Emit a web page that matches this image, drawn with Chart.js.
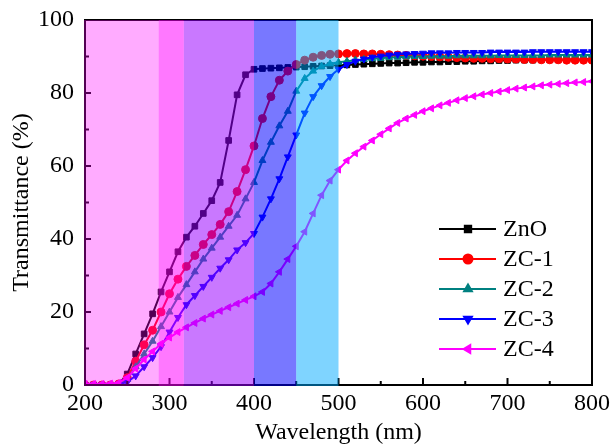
<!DOCTYPE html>
<html>
<head>
  <title>Transmittance</title>
  <script src="https://cdn.jsdelivr.net/npm/chart.js@4.4.2/dist/chart.umd.min.js"></script>
  <style>
    body { margin: 0; background: #fff; }
    canvas { display: block; }
  </style>
</head>
<body>
<canvas id="chart" width="611" height="445"></canvas>
<script>
const wavelengths = [200, 210, 220, 230, 240, 250, 260, 270, 280, 290, 300, 310, 320, 330, 340, 350, 360, 370, 380, 390, 400,
  410, 420, 430, 440, 450, 460, 470, 480, 490, 500, 510, 520, 530, 540, 550, 560, 570, 580, 590, 600,
  610, 620, 630, 640, 650, 660, 670, 680, 690, 700, 710, 720, 730, 740, 750, 760, 770, 780, 790, 800];

const zno = [0, 0, 0, 0, 0.3, 3, 8.5, 14, 19.5, 25.5, 31, 36.5, 40.5, 43.5, 47, 50.5, 55.5, 67, 79.5, 85, 86.5,
  86.7, 86.8, 86.9, 87, 87.1, 87.2, 87.3, 87.4, 87.5, 87.6, 87.7, 87.8, 87.9, 88, 88.1, 88.2, 88.2, 88.3, 88.4, 88.4,
  88.5, 88.5, 88.6, 88.6, 88.7, 88.7, 88.8, 88.8, 88.9, 88.9, 89, 89, 89, 89.1, 89.1, 89.1, 89.2, 89.2, 89.2, 89.3];
const zc1 = [0, 0, 0, 0, 0.3, 2, 6.5, 11, 15, 20, 25, 29, 32.5, 35.5, 38.5, 41.2, 44, 47.5, 53, 59, 65.5,
  73, 79, 83.5, 86, 87.8, 89, 89.8, 90.3, 90.6, 90.7, 90.8, 90.8, 90.7, 90.7, 90.6, 90.5, 90.4, 90.3, 90.2, 90.1,
  90, 89.9, 89.8, 89.7, 89.6, 89.5, 89.5, 89.4, 89.4, 89.3, 89.3, 89.2, 89.2, 89.1, 89.1, 89.1, 89, 89, 89, 89];
const zc2 = [0, 0, 0, 0, 0.2, 1.5, 5, 8.5, 12, 16, 20, 24, 27.5, 31, 34.5, 37.5, 40.5, 43.5, 46.5, 51, 55.5,
  61.5, 66.5, 71, 75, 80.5, 84, 86, 87.3, 88, 88.4, 88.7, 89, 89.2, 89.4, 89.5, 89.7, 89.8, 89.9, 90, 90,
  90.1, 90.1, 90.1, 90.2, 90.2, 90.2, 90.2, 90.2, 90.3, 90.3, 90.3, 90.3, 90.3, 90.3, 90.4, 90.4, 90.4, 90.4, 90.4, 90.4];
const zc3 = [0, 0, 0, 0, 0.2, 0.8, 2.5, 5, 7.5, 10.5, 14.5, 18.5, 22, 24.5, 27, 29.5, 32, 34.3, 37, 39, 41.5,
  46, 51, 56.5, 62.5, 68.5, 74.5, 79, 82, 84.5, 86.5, 87.8, 88.7, 89.3, 89.8, 90.1, 90.4, 90.6, 90.7, 90.8, 90.9,
  91, 91, 91, 91.1, 91.1, 91.1, 91.1, 91.2, 91.2, 91.2, 91.2, 91.2, 91.3, 91.3, 91.3, 91.3, 91.3, 91.3, 91.3, 91.3];
const zc4 = [0.3, 0.3, 0.3, 0.4, 0.6, 2, 4.5, 7, 9.2, 11.3, 13, 14.5, 15.8, 17, 18.2, 19.3, 20.3, 21.3, 22.3, 23.3, 24.3,
  25.5, 27.8, 31, 34.5, 38, 42, 47, 52, 56, 59, 61.5, 63.5, 65.3, 67, 68.7, 70.3, 71.8, 73, 74, 75,
  75.8, 76.6, 77.3, 78, 78.6, 79.1, 79.6, 80, 80.4, 80.8, 81.2, 81.5, 81.8, 82.1, 82.3, 82.5, 82.7, 82.9, 83, 83.2];

const seriesNames = ['ZnO', 'ZC-1', 'ZC-2', 'ZC-3', 'ZC-4'];
// wavelength edges of the shaded spectral bands
const bandEdges = [200, 287, 317, 400, 450, 500];

const FONT = '"Liberation Serif", "Times New Roman", serif';
const colors = ['#000000', '#ff0000', '#008080', '#0000ff', '#ff00ff'];
const styles = ['rect', 'circle', 'triangle', 'triangle', 'triangle'];
const rotations = [0, 0, 0, 180, -90];
const bandColors = ['rgba(255,0,255,0.33)', 'rgba(255,0,255,0.53)', 'rgba(153,0,255,0.53)',
  'rgba(0,0,255,0.53)', 'rgba(0,170,255,0.5)'];

const series = [zno, zc1, zc2, zc3, zc4];

const overlay = {
  id: 'overlay',
  afterDatasetsDraw(chart) {
    const { ctx, chartArea: a, scales: { x, y } } = chart;
    ctx.save();
    // frame
    ctx.strokeStyle = '#000';
    ctx.lineWidth = 2;
    ctx.strokeRect(a.left, a.top, a.right - a.left, a.bottom - a.top);
    // inward ticks
    for (let v = 200; v <= 800; v += 50) {
      const px = x.getPixelForValue(v);
      const len = v % 100 === 0 ? 7 : 4;
      ctx.beginPath();
      ctx.moveTo(px, a.bottom); ctx.lineTo(px, a.bottom - len);
      ctx.stroke();
    }
    for (let v = 0; v <= 100; v += 10) {
      const py = y.getPixelForValue(v);
      const len = v % 20 === 0 ? 6 : 4;
      ctx.beginPath();
      ctx.moveTo(a.left, py); ctx.lineTo(a.left + len, py);
      ctx.stroke();
    }
    // translucent bands on top of the curves
    for (let i = 0; i < bandEdges.length - 1; i++) {
      const x0 = x.getPixelForValue(bandEdges[i]);
      const x1 = x.getPixelForValue(bandEdges[i + 1]);
      ctx.fillStyle = bandColors[i];
      ctx.fillRect(x0 - (i === 0 ? 1 : 0), a.top, x1 - x0 + (i === 0 ? 1 : 0), a.bottom - a.top + 1);
    }
    // legend
    ctx.font = '24px ' + FONT;
    ctx.textBaseline = 'middle';
    seriesNames.forEach((name, i) => {
      const ly = 229 + i * 30;
      ctx.strokeStyle = colors[i];
      ctx.lineWidth = 2;
      ctx.beginPath();
      ctx.moveTo(439, ly); ctx.lineTo(496, ly);
      ctx.stroke();
      ctx.fillStyle = colors[i];
      Chart.helpers.drawPoint(ctx, { pointStyle: styles[i], rotation: rotations[i], radius: 4.5, borderWidth: 1 }, 468, ly);
      ctx.fillStyle = '#000';
      ctx.fillText(name, 503, ly + 1);
    });
    ctx.restore();
  }
};

new Chart(document.getElementById('chart'), {
  type: 'line',
  data: {
    datasets: series.map((vals, i) => ({
      label: seriesNames[i],
      data: wavelengths.map((w, j) => ({ x: w, y: vals[j] })),
      borderColor: colors[i],
      backgroundColor: colors[i],
      pointStyle: styles[i],
      pointRotation: rotations[i],
      pointRadius: 4,
      pointBorderWidth: 1,
      borderWidth: 2,
      tension: 0,
      order: 5 - i
    }))
  },
  options: {
    responsive: false,
    animation: false,
    devicePixelRatio: 1,
    layout: { padding: { top: 20, right: 19, left: 0, bottom: 0 } },
    plugins: { legend: { display: false }, tooltip: { enabled: false } },
    scales: {
      x: {
        type: 'linear', min: 200, max: 800,
        grid: { display: false, drawTicks: false },
        border: { display: false },
        ticks: { stepSize: 100, padding: 4, color: '#000', font: { family: FONT, size: 24 } },
        title: { display: true, text: 'Wavelength (nm)', color: '#000', padding: 0,
          font: { family: FONT, size: 24, lineHeight: 1 } },
        afterFit: s => { s.height = 60; s.paddingLeft = 0; s.paddingRight = 0; }
      },
      y: {
        min: 0, max: 100,
        grid: { display: false, drawTicks: false },
        border: { display: false },
        ticks: { stepSize: 20, padding: 11, color: '#000', font: { family: FONT, size: 24 } },
        title: { display: true, text: 'Transmittance (%)', color: '#000', padding: { top: 10 },
          font: { family: FONT, size: 24, lineHeight: 1 } },
        afterFit: s => { s.width = 85; s.paddingTop = 0; s.paddingBottom = 0; }
      }
    }
  },
  plugins: [overlay]
});
</script>
</body>
</html>
